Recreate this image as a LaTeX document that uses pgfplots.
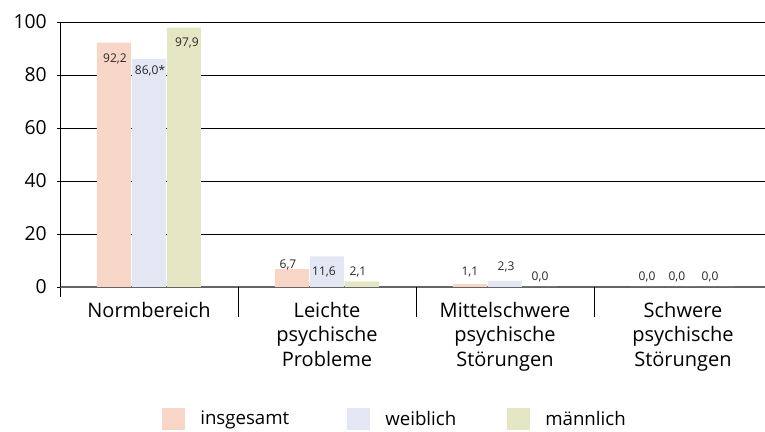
\documentclass[border=0pt]{standalone}
\usepackage{pgfplots}
\pgfplotsset{compat=1.18}
\usepackage{fontspec}
\setmainfont{Open Sans}
\definecolor{cIns}{RGB}{247,214,199}
\definecolor{cWei}{RGB}{227,231,244}
\definecolor{cMae}{RGB}{229,231,196}
\definecolor{axgray}{RGB}{100,100,100}
\begin{document}
\begin{tikzpicture}
\path[use as bounding box] (-45pt,-108.75pt) rectangle (528.75pt,215.25pt);
\begin{axis}[
  at={(0,0)}, anchor=south west,
  scale only axis, width=534pt, height=198.75pt,
  xmin=-0.5, xmax=3.5, ymin=0, ymax=100,
  axis x line=bottom, axis y line=left,
  axis line style={-},
  x axis line style={draw=axgray, line width=0.8pt},
  y axis line style={draw=black, line width=0.6pt},
  ytick={0,20,40,60,80,100},
  ymajorgrids, grid style={black, line width=0.6pt},
  tick align=outside,
  ytick style={black, line width=0.6pt}, major tick length=2.25pt,
  yticklabel style={font=\fontsize{14.5}{18}\selectfont, inner sep=0pt, xshift=-7.5pt},
  /pgf/number format/assume math mode=true,
  xtick={0,1,2,3},
  xticklabels={Normbereich, Leichte\\psychische\\Probleme, Mittelschwere\\psychische\\Störungen, Schwere\\psychische\\Störungen},
  xticklabel style={font=\fontsize{15}{18.4}\selectfont, align=center, anchor=north, inner sep=0pt, yshift=-9pt},
  xtick style={draw=none},
  extra x ticks={0.5,1.5,2.5},
  extra x tick labels={},
  extra x tick style={major tick length=22.5pt, xtick style={draw=black, line width=0.6pt}, grid=none},
  minor xtick={-0.5},
  minor tick length=7.5pt,
  minor x tick style={draw=black, line width=0.6pt},
  legend columns=3,
  legend style={at={(rel axis cs:0.1433,-0.498)}, anchor=west, draw=none, fill=none, inner sep=0pt,
    font=\fontsize{14}{16}\selectfont, nodes={inner sep=0pt, anchor=west}, column sep=0pt},
  legend image code/.code={\path[#1, draw=none] (0pt,-8.25pt) rectangle (17.25pt,8.25pt); \path (28.5pt,0pt);},
]
\addplot[ybar, bar width=25.5pt, bar shift=-26.25pt, fill=cIns, draw=none] coordinates {(0,92.2) (1,6.7) (2,1.1) (3,0)};
\addlegendentry{\makebox[110.25pt][l]{insgesamt}}
\addplot[ybar, bar width=25.5pt, bar shift=0pt, fill=cWei, draw=none] coordinates {(0,86.0) (1,11.6) (2,2.3) (3,0)};
\addlegendentry{\makebox[91.5pt][l]{weiblich}}
\addplot[ybar, bar width=25.5pt, bar shift=26.25pt, fill=cMae, draw=none] coordinates {(0,97.9) (1,2.1) (2,0) (3,0)};
\addlegendentry{männlich}
\addplot[only marks, mark=none, point meta=explicit symbolic, nodes near coords,
  nodes near coords style={anchor=center, font=\fontsize{9}{10}\selectfont, text=black!85, inner sep=0pt}]
  coordinates {
  (-0.191,86.0) [92,2]
  (0.006,81.5) [86,0*]
  (0.213,92.1) [97,9]
  (0.781,8.5) [6,7]
  (0.983,5.5) [11,6]
  (1.174,5.5) [2,1]
  (1.803,5.7) [1,1]
  (2.006,7.5) [2,3]
  (2.197,3.8) [0,0]
  (2.798,3.8) [0,0]
  (2.966,3.8) [0,0]
  (3.152,3.8) [0,0]
  };
\end{axis}
\end{tikzpicture}
\end{document}
